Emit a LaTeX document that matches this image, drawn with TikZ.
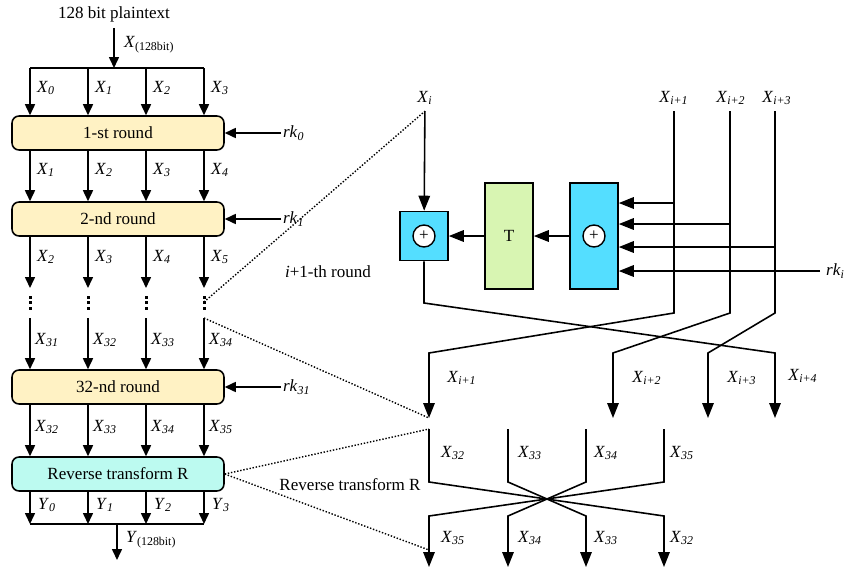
\documentclass[tikz,border=0pt]{standalone}
\usepackage{fontspec}
\setmainfont{Liberation Serif}
\usetikzlibrary{arrows.meta,positioning,calc}
\definecolor{roundfill}{RGB}{255,242,196}
\definecolor{revfill}{RGB}{188,250,240}
\definecolor{xorfill}{RGB}{84,222,255}
\definecolor{tfill}{RGB}{216,245,178}
\newcommand{\xs}[2]{\textit{#1}\textsubscript{\textit{#2}}}
\newcommand{\xbit}[1]{\textit{#1}\textsubscript{(128bit)}}

\begin{document}
\begin{tikzpicture}[x=0.02cm, y=-0.02cm, font=\fontsize{9.7}{11}\selectfont,
  rnd/.style={draw, line width=0.9pt, rounded corners=4pt, fill=roundfill,
              minimum width=4.24cm, minimum height=0.68cm},
  blk/.style={draw, line width=0.9pt, minimum width=0.96cm},
  circ/.style={draw, circle, fill=white, line width=0.8pt, inner sep=0pt, minimum size=0.44cm},
  ar/.style={-{Triangle[length=2.2mm,width=2mm]}, line width=0.9pt},
  arb/.style={-{Triangle[length=3mm,width=2.3mm]}, line width=0.9pt},
  ln/.style={line width=0.9pt},
  dt/.style={densely dotted, line width=0.8pt},
  lb/.style={anchor=west, inner sep=1pt},
]
  \useasboundingbox (0,0) rectangle (850,582);

  % left: cipher structure
  \node (pt) at (114,14) {128 bit plaintext};
  \coordinate (sp) at (114,68);
  \foreach \i/\x in {0/30,1/88,2/146,3/204} {
    \coordinate (c\i) at (\x,68);
    \coordinate (dt\i) at (\x,288);
    \coordinate (db\i) at (\x,318);
    \coordinate (e\i) at (\x,524);
  }
  \node[rnd] (r1) at (118,133) {1-st round};
  \node[rnd] (r2) at (118,219) {2-nd round};
  \node[rnd] (r3) at (118,387) {32-nd round};
  \node[rnd, fill=revfill] (rv) at (118,474) {Reverse transform R};

  \draw[ar] (pt) -- (sp);
  \node[lb] (xin) at (122,45) {\xbit{X}};
  \draw[ln] (c0) -- (c3);
  \draw[ln] (e0) -- (e3);

  \foreach \i in {0,...,3} {
    \draw[ar] (c\i) -- (r1.north -| c\i);
    \draw[ar] (r1.south -| c\i) -- (r2.north -| c\i);
    \draw[ar] (r2.south -| c\i) -- (dt\i);
    \draw[ar] (db\i) -- (r3.north -| c\i);
    \draw[ar] (r3.south -| c\i) -- (rv.north -| c\i);
    \draw[ar] (rv.south -| c\i) -- (e\i);
    \foreach \y in {297,302.5,308}
      \fill ($(dt\i)+(-1.5,\y-289.5)$) rectangle ++(3,3);
  }
  \foreach \i/\x in {0/30,1/88,2/146,3/204} {
    \pgfmathtruncatemacro{\a}{\i+1}
    \pgfmathtruncatemacro{\b}{\i+2}
    \pgfmathtruncatemacro{\c}{\i+31}
    \pgfmathtruncatemacro{\d}{\i+32}
    \node[lb] at (\x+5,88) {\xs{X}{\i}};
    \node[lb] at (\x+5,170) {\xs{X}{\a}};
    \node[lb] at (\x+5,257) {\xs{X}{\b}};
    \node[lb] at (\x+3,340) {\xs{X}{\c}};
    \node[lb] at (\x+3,427) {\xs{X}{\d}};
    \node[lb] at (\x+6,505) {\xs{Y}{\i}};
  }
  \coordinate (ot) at (117,524);
  \coordinate (out) at (117,560);
  \draw[ar] (ot) -- (out);
  \node[lb] (yout) at (124,540) {\xbit{Y}};

  \node[lb] (k0) at (281,133) {\xs{rk}{0}};
  \node[lb] (k1) at (281,219) {\xs{rk}{1}};
  \node[lb] (k31) at (281,387) {\xs{rk}{31}};
  \draw[ar] (k0.west) -- (r1.east);
  \draw[ar] (k1.west) -- (r2.east);
  \draw[ar] (k31.west) -- (r3.east);

  % right: one round
  \node (xi) at (425,98) {\xs{X}{i}};
  \node (x1) at (674,98) {\xs{X}{i+1}};
  \node (x2) at (731,98) {\xs{X}{i+2}};
  \node (x3) at (777,98) {\xs{X}{i+3}};
  \node[anchor=west] (ki) at (820,271) {\xs{rk}{i}};

  \node[blk, fill=xorfill, minimum height=0.98cm] (xa) at (424,236) {};
  \node[circ] (pa) at (xa) {+};
  \node[blk, fill=tfill, minimum height=2.12cm] (tb) at (509,236) {T};
  \node[blk, fill=xorfill, minimum height=2.12cm] (xb) at (594,236) {};
  \node[circ] (pb) at (xb) {+};

  \draw[arb] (xi) -- (xa);
  \draw[arb] (tb) -- (xa);
  \draw[arb] (xb) -- (tb);

  \coordinate (h1) at (674,203);
  \coordinate (h2) at (730,224);
  \coordinate (h3) at (775,247);
  \draw[arb] (h1) -- (h1 -| xb.east);
  \draw[arb] (h2) -- (h2 -| xb.east);
  \draw[arb] (h3) -- (h3 -| xb.east);
  \draw[arb] (ki.west) -- (ki.west -| xb.east);

  \coordinate (o1) at (429,418);
  \coordinate (o2) at (613,418);
  \coordinate (o3) at (708,418);
  \coordinate (o4) at (775,418);
  \draw[arb] (x1.south -| h1) -- (h1 |- 0,313) -- (o1 |- 0,353) -- (o1);
  \draw[arb] (x2.south -| h2) -- (h2 |- 0,313) -- (o2 |- 0,353) -- (o2);
  \draw[arb] (x3.south -| h3) -- (h3 |- 0,313) -- (o3 |- 0,353) -- (o3);
  \draw[arb] (xa.south) -- (xa.south |- 0,303) -- (o4 |- 0,353) -- (o4);

  \node at (462,378) {\xs{X}{i+1}};
  \node at (647,378) {\xs{X}{i+2}};
  \node at (742,378) {\xs{X}{i+3}};
  \node at (803,376) {\xs{X}{i+4}};
  \node (rl) at (328,272) {\textit{i}+1-th round};

  % right: reverse transform
  \foreach \i/\x in {1/429,2/508,3/586,4/664} {
    \coordinate (t\i) at (\x,429);
    \coordinate (b\i) at (\x,567);
  }
  \draw[arb] (t1) -- (t1 |- 0,482) -- (b4 |- 0,516) -- (b4);
  \draw[arb] (t2) -- (t2 |- 0,482) -- (b3 |- 0,516) -- (b3);
  \draw[arb] (t3) -- (t3 |- 0,482) -- (b2 |- 0,516) -- (b2);
  \draw[arb] (t4) -- (t4 |- 0,482) -- (b1 |- 0,516) -- (b1);
  \foreach \x/\a/\b in {453/32/35,530/33/34,606/34/33,682/35/32} {
    \node at (\x,453) {\xs{X}{\a}};
    \node at (\x,538) {\xs{X}{\b}};
  }
  \node (rr) at (350,485) {Reverse transform R};

  % zoom lines
  \draw[dt] ($(dt3)+(0,14)$) -- (xi.south);
  \draw[dt] (db3) -- (o1);
  \draw[dt] (rv.east) -- (t1);
  \draw[dt] (rv.east) -- ($(b1)+(0,-17)$);
\end{tikzpicture}
\end{document}
